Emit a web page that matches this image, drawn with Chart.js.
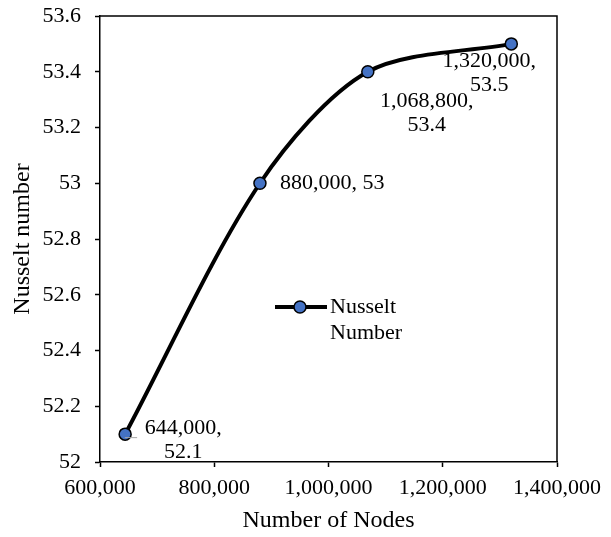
<!DOCTYPE html>
<html>
<head>
<meta charset="utf-8">
<script src="https://cdn.jsdelivr.net/npm/chart.js@4/dist/chart.umd.min.js"></script>
<style>
  html, body { margin: 0; padding: 0; background: #fff; }
  #wrap { width: 611px; height: 537px; }
</style>
</head>
<body>
<div id="wrap"><canvas id="c" width="611" height="537"></canvas></div>
<script>
// Mesh independence study: Nusselt number vs. mesh size
const nodeCounts = [644000, 880000, 1068800, 1320000];
const nusseltValues = [52.1, 53, 53.4, 53.5];
const seriesName = ['Nusselt', 'Number'];
const xTicks = [600000, 800000, 1000000, 1200000, 1400000];
const yTicks = [52, 52.2, 52.4, 52.6, 52.8, 53, 53.2, 53.4, 53.6];

// Placement of each value label relative to its marker (px), and whether it wraps
const labelLayout = [
  { dx: 58, dy: -6, wrap: true, align: 'center' },
  { dx: 20, dy: 0, wrap: false, align: 'left' },
  { dx: 59, dy: 29, wrap: true, align: 'center' },
  { dx: -22, dy: 17, wrap: true, align: 'center' }
];

const FONT = '"Liberation Serif", "Times New Roman", serif';
const fmt = v => v.toLocaleString('en-US');

const frame = {
  id: 'frame',
  afterDatasetsDraw(chart) {
    const { ctx, chartArea: a } = chart;
    ctx.save();
    ctx.strokeStyle = '#000';
    ctx.lineWidth = 1.5;
    ctx.beginPath();
    ctx.moveTo(a.left, a.top);
    ctx.lineTo(a.right, a.top);
    ctx.lineTo(a.right, a.bottom);
    ctx.stroke();
    ctx.restore();
  }
};

const valueLabels = {
  id: 'valueLabels',
  afterDatasetsDraw(chart) {
    const { ctx } = chart;
    const pts = chart.getDatasetMeta(0).data;
    ctx.save();
    // short leader from the first marker towards its label
    ctx.strokeStyle = '#a6a6a6';
    ctx.lineWidth = 1;
    ctx.beginPath();
    ctx.moveTo(pts[0].x, pts[0].y + 3);
    ctx.lineTo(pts[0].x, pts[0].y + 3.5);
    ctx.lineTo(pts[0].x + 12, pts[0].y + 3.5);
    ctx.stroke();
    ctx.font = '22px ' + FONT;
    ctx.fillStyle = '#000';
    ctx.textBaseline = 'middle';
    pts.forEach((p, i) => {
      const L = labelLayout[i];
      const xs = fmt(nodeCounts[i]) + ',';
      const ys = String(nusseltValues[i]);
      ctx.textAlign = L.align;
      if (L.wrap) {
        ctx.fillText(xs, p.x + L.dx, p.y + L.dy);
        ctx.fillText(ys, p.x + L.dx, p.y + L.dy + 24);
      } else {
        ctx.fillText(xs + ' ' + ys, p.x + L.dx, p.y + L.dy);
      }
    });
    ctx.restore();
  }
};

const legendBox = {
  id: 'legendBox',
  afterDatasetsDraw(chart) {
    const { ctx } = chart;
    const x0 = 275, y0 = 307;
    ctx.save();
    ctx.strokeStyle = '#000';
    ctx.lineWidth = 4;
    ctx.beginPath();
    ctx.moveTo(x0, y0);
    ctx.lineTo(x0 + 52, y0);
    ctx.stroke();
    ctx.beginPath();
    ctx.arc(x0 + 25, y0, 6, 0, Math.PI * 2);
    ctx.fillStyle = '#4472C4';
    ctx.fill();
    ctx.lineWidth = 1.5;
    ctx.stroke();
    ctx.font = '22px ' + FONT;
    ctx.fillStyle = '#000';
    ctx.textAlign = 'left';
    ctx.textBaseline = 'middle';
    ctx.fillText(seriesName[0], x0 + 55, y0);
    ctx.fillText(seriesName[1], x0 + 55, y0 + 26);
    ctx.restore();
  }
};

new Chart(document.getElementById('c'), {
  type: 'line',
  data: {
    datasets: [{
      label: seriesName.join(' '),
      data: nodeCounts.map((x, i) => ({ x, y: nusseltValues[i] })),
      borderColor: '#000',
      borderWidth: 4,
      tension: 0.3,
      pointRadius: 6,
      pointHoverRadius: 6,
      pointBackgroundColor: '#4472C4',
      pointBorderColor: '#000',
      pointBorderWidth: 1.5
    }]
  },
  options: {
    responsive: false,
    animation: false,
    events: [],
    layout: { padding: { top: 16, right: 54, bottom: 0, left: 0 } },
    plugins: { legend: { display: false }, tooltip: { enabled: false } },
    scales: {
      x: {
        type: 'linear',
        min: 600000, max: 1400000,
        afterFit: s => { s.height = 75; s.paddingLeft = 0; s.paddingRight = 0; },
        afterBuildTicks: s => { s.ticks = xTicks.map(v => ({ value: v })); },
        border: { color: '#000', width: 1.5 },
        grid: { drawOnChartArea: false, drawTicks: true, tickLength: 5, tickColor: '#000', tickWidth: 1.5 },
        ticks: { color: '#000', font: { family: FONT, size: 22 }, padding: 8, callback: v => fmt(v), maxRotation: 0, autoSkip: false },
        title: { display: true, text: 'Number of Nodes', color: '#000', font: { family: FONT, size: 24 }, padding: { top: 0, bottom: 2 } }
      },
      y: {
        min: 52, max: 53.6,
        afterFit: s => { s.width = 100; s.paddingTop = 0; s.paddingBottom = 0; },
        afterBuildTicks: s => { s.ticks = yTicks.map(v => ({ value: v })); },
        border: { color: '#000', width: 1.5 },
        grid: { drawOnChartArea: false, drawTicks: true, tickLength: 5, tickColor: '#000', tickWidth: 1.5 },
        ticks: { color: '#000', font: { family: FONT, size: 22 }, padding: 14, callback: v => String(+v.toFixed(1)), autoSkip: false },
        title: { display: true, text: 'Nusselt number', color: '#000', font: { family: FONT, size: 24 }, padding: { top: 8, bottom: 0 } }
      }
    }
  },
  plugins: [frame, valueLabels, legendBox]
});
</script>
</body>
</html>
